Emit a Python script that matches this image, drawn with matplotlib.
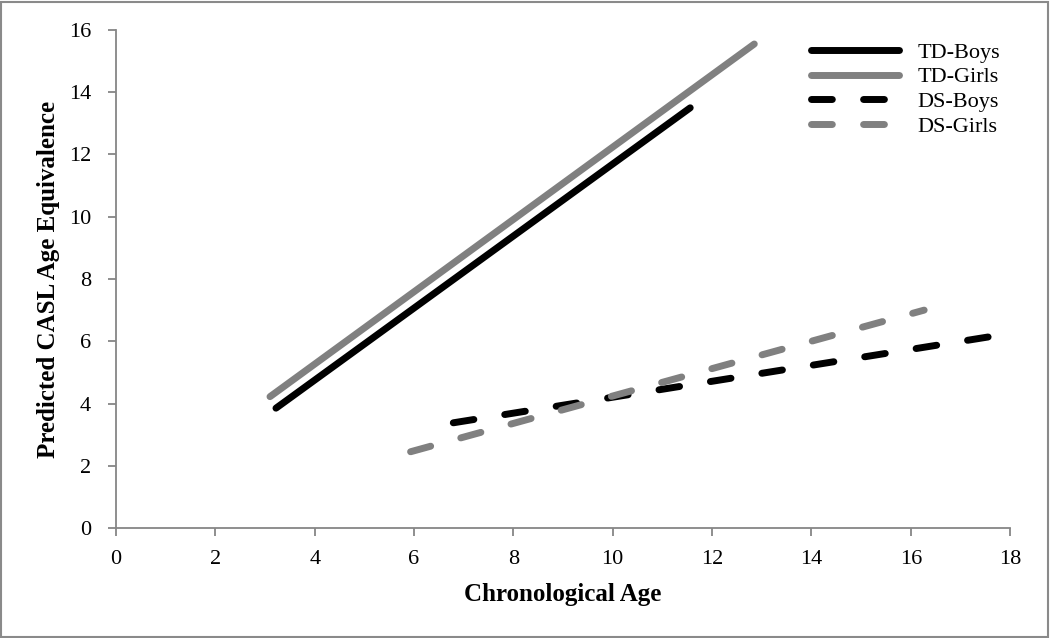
import matplotlib
matplotlib.use("Agg")
import matplotlib.pyplot as plt
from matplotlib.patches import Rectangle

# Data (endpoints of fitted lines)
series_names = ["TD-Boys", "TD-Girls", "DS-Boys", "DS-Girls"]
td_boys_x = [3.22, 11.56]
td_boys_y = [3.85, 13.5]
td_girls_x = [3.1, 12.85]
td_girls_y = [4.22, 15.55]
ds_boys_x = [6.79, 17.57]
ds_boys_y = [3.38, 6.14]
ds_girls_x = [5.93, 16.27]
ds_girls_y = [2.45, 7.0]
x_ticks = [0, 2, 4, 6, 8, 10, 12, 14, 16, 18]
y_ticks = [0, 2, 4, 6, 8, 10, 12, 14, 16]

plt.rcParams['font.family'] = ['Liberation Serif', 'DejaVu Serif']

fig = plt.figure(figsize=(10.5, 6.38), dpi=100)
ax = fig.add_axes([0.1105, 0.1724, 0.8515, 0.7806])

black = "#000000"
gray = "#808080"
lw = 5
dash = (3.0, 4.5)
ax.plot(td_boys_x, td_boys_y, color=black, lw=lw, solid_capstyle="round", label=series_names[0])
ax.plot(td_girls_x, td_girls_y, color=gray, lw=lw, solid_capstyle="round", label=series_names[1])
ax.plot(ds_boys_x, ds_boys_y, color=black, lw=lw, dashes=dash, dash_capstyle="round", label=series_names[2])
ax.plot(ds_girls_x, ds_girls_y, color=gray, lw=lw, dashes=dash, dash_capstyle="round", label=series_names[3])

ax.set_xlim(0, 18)
ax.set_ylim(0, 16)
ax.set_xticks(x_ticks)
ax.set_yticks(y_ticks)

spine_col = "#868686"
for s in ["top", "right"]:
    ax.spines[s].set_visible(False)
for s in ["left", "bottom"]:
    ax.spines[s].set_color(spine_col)
    ax.spines[s].set_linewidth(1.3)
ax.tick_params(axis="both", colors=spine_col, direction="out", length=5.5, width=1.3,
               labelcolor="black", labelsize=16)
ax.tick_params(axis="x", pad=10.5)
ax.tick_params(axis="y", pad=12.5)

ax.set_xlabel("Chronological Age", fontsize=18, fontweight="bold", labelpad=10)
ax.set_ylabel("Predicted CASL Age Equivalence", fontsize=18, fontweight="bold", labelpad=6)

leg = ax.legend(loc="upper left", bbox_to_anchor=(0.755, 1.016), frameon=False,
                fontsize=16, handlelength=3.95, handletextpad=0.85, labelspacing=0.19)

# figure border
fig.patches.append(Rectangle((0.001, 0.0015), 0.997, 0.996, transform=fig.transFigure,
                             fill=False, edgecolor="#8a8a8a", lw=1.5))

fig.savefig("out.png", dpi=100)
